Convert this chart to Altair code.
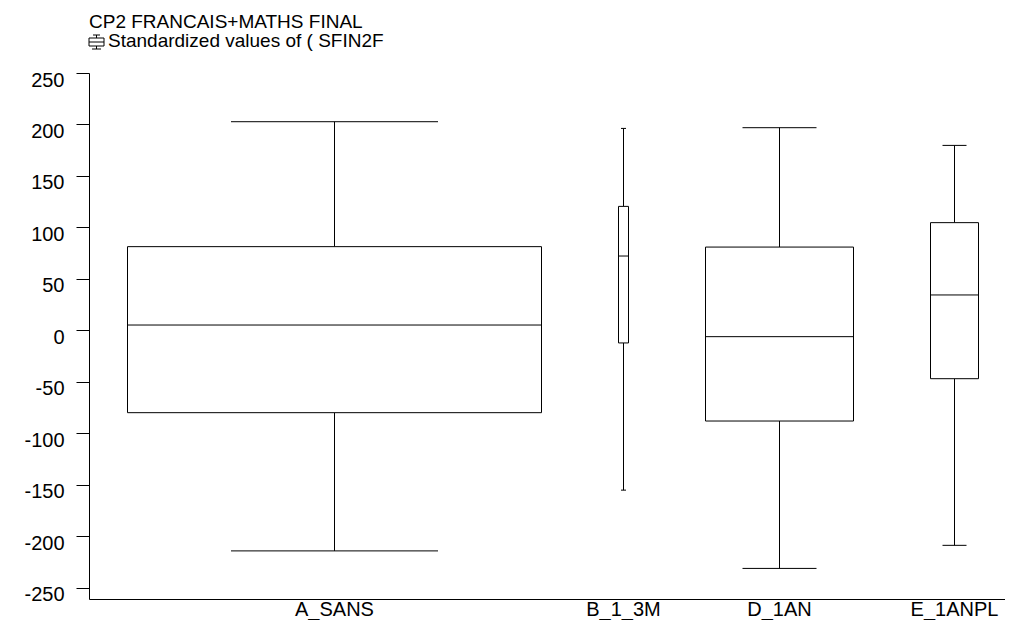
import altair as alt
import pandas as pd

# ---- data ----
groups = ["A_SANS", "B_1_3M", "D_1AN", "E_1ANPL"]
box_weight = [41.4, 1.0, 14.8, 4.8]      # relative group sizes (variable box widths)
lower = [-214.0, -155.0, -231.0, -208.6]
q1 = [-79.8, -12.1, -87.9, -46.8]
median = [5.3, 72.3, -6.0, 34.5]
q3 = [81.4, 120.5, 81.0, 104.7]
upper = [202.7, 196.2, 196.9, 179.7]
y_ticks = [-250, -200, -150, -100, -50, 0, 50, 100, 150, 200, 250]
title_line1 = "CP2 FRANCAIS+MATHS FINAL"
title_line2 = "Standardized values of ( SFIN2F"

GAP = 7.7
W, H = 916, 526
FONT = "Liberation Sans, Arial, Helvetica, sans-serif"

# ---- build table ----
rows = []
pos = GAP / 2
for g, w, lo, a, m, b, up in zip(groups, box_weight, lower, q1, median, q3, upper):
    rows.append(dict(group=g, left=pos, right=pos + w, center=pos + w / 2,
                     cap_l=pos + w / 4, cap_r=pos + 3 * w / 4,
                     lower=lo, q1=a, median=m, q3=b, upper=up))
    pos += w + GAP
df = pd.DataFrame(rows)

xs = alt.Scale(domain=[0, 91.6], nice=False, zero=False)
ys = alt.Scale(domain=[-260.7, 250], nice=False, zero=False)
xa = alt.Axis(labels=False, ticks=False, title=None, grid=False,
              domainColor="black", domainWidth=1)
ya = alt.Axis(values=y_ticks, title=None, grid=False, domainColor="black",
              tickColor="black", tickSize=13, labelPadding=12,
              labelFontSize=20, labelFont=FONT, labelColor="black",
              labelBaseline="top", labelOffset=-3,
              labelExpr="toString(datum.value)")


def X(f):
    return alt.X(f"{f}:Q", scale=xs, axis=xa)


def Y(f):
    return alt.Y(f"{f}:Q", scale=ys, axis=ya)


base = alt.Chart(df)
stroke = dict(color="black", strokeWidth=1)

whisk_up = base.mark_rule(**stroke).encode(x=X("center"), y=Y("q3"), y2="upper:Q")
whisk_lo = base.mark_rule(**stroke).encode(x=X("center"), y=Y("lower"), y2="q1:Q")
cap_up = base.mark_rule(**stroke).encode(x=X("cap_l"), x2="cap_r:Q", y=Y("upper"))
cap_lo = base.mark_rule(**stroke).encode(x=X("cap_l"), x2="cap_r:Q", y=Y("lower"))
boxes = base.mark_rect(fill="white", stroke="black", strokeWidth=1).encode(
    x=X("left"), x2="right:Q", y=Y("q1"), y2="q3:Q")
med = base.mark_rule(**stroke).encode(x=X("left"), x2="right:Q", y=Y("median"))
xlabels = base.mark_text(font=FONT, fontSize=20, color="black",
                         baseline="alphabetic", align="center").encode(
    x=X("center"), y=alt.value(H + 17), text="group:N")

# ---- title + legend icon ----
t_df = pd.DataFrame({"t": [title_line1]})
t1 = alt.Chart(t_df).mark_text(font=FONT, fontSize=19, color="black", align="left",
                               baseline="alphabetic").encode(
    x=alt.value(0), y=alt.value(-45), text="t:N")
t2_df = pd.DataFrame({"t": [title_line2]})
t2 = alt.Chart(t2_df).mark_text(font=FONT, fontSize=19, color="black", align="left",
                                baseline="alphabetic").encode(
    x=alt.value(19), y=alt.value(-26), text="t:N")

icon_src = alt.Chart(pd.DataFrame({"k": [0]}))
icon_box = icon_src.mark_rect(fill="white", stroke="black", strokeWidth=1).encode(
    x=alt.value(0), x2=alt.value(15), y=alt.value(-35), y2=alt.value(-27))
icon_mid = icon_src.mark_rule(**stroke).encode(
    x=alt.value(0), x2=alt.value(15), y=alt.value(-31))
icon_stem_up = icon_src.mark_rule(**stroke).encode(
    x=alt.value(7.5), y=alt.value(-38), y2=alt.value(-35))
icon_stem_lo = icon_src.mark_rule(**stroke).encode(
    x=alt.value(7.5), y=alt.value(-27), y2=alt.value(-24))
icon_cap_up = icon_src.mark_rule(**stroke).encode(
    x=alt.value(4), x2=alt.value(11), y=alt.value(-38))
icon_cap_lo = icon_src.mark_rule(**stroke).encode(
    x=alt.value(3), x2=alt.value(12), y=alt.value(-24))

chart = alt.layer(
    whisk_up, whisk_lo, cap_up, cap_lo, boxes, med, xlabels,
    t1, t2, icon_box, icon_mid, icon_stem_up, icon_stem_lo, icon_cap_up, icon_cap_lo
).properties(
    width=W, height=H,
    autosize=alt.AutoSizeParams(type="none"),
    padding={"left": 81, "top": 65, "right": 0, "bottom": 21},
    background="white",
).configure_view(strokeWidth=0)

chart.save("out.html", embed_options={"renderer": "svg", "actions": False})
